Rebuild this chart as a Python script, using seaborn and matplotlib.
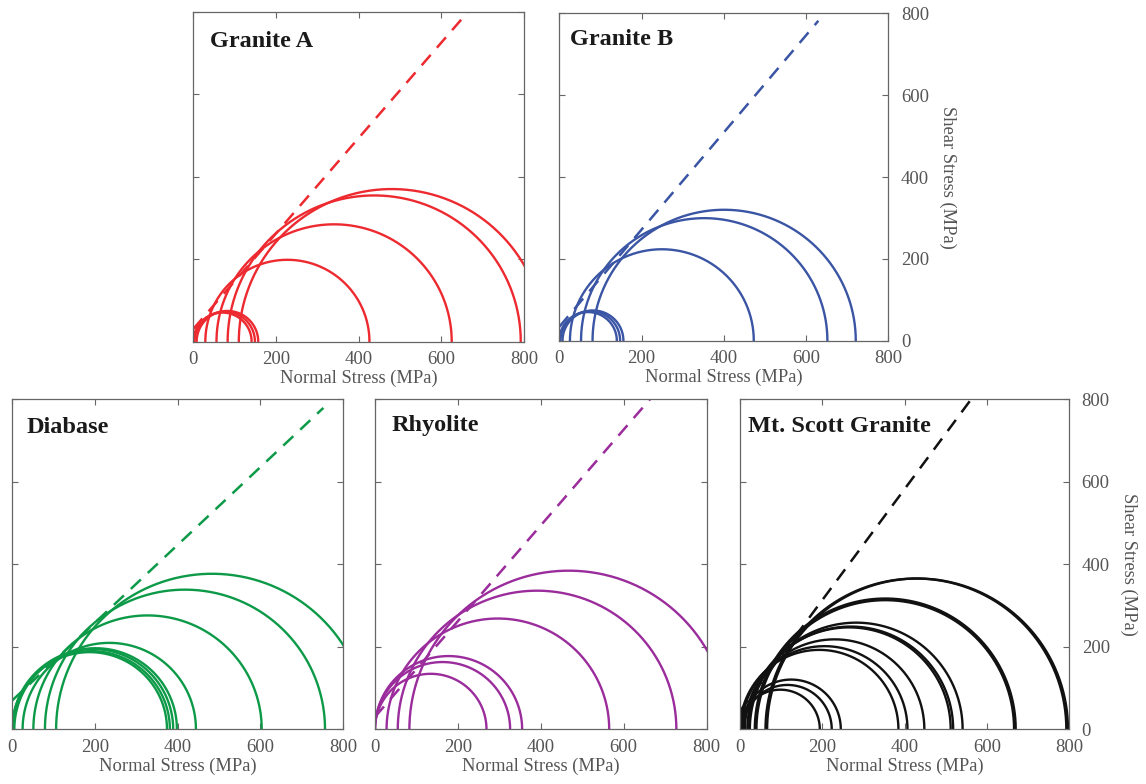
import numpy as np
import pandas as pd
import seaborn as sns
import matplotlib.pyplot as plt

# Mohr circles: sigma3 / sigma1 (MPa) for each rock, plus failure envelope
granite_a_s3 = [110, 83, 56, 29, 0, 3, 8]
granite_a_s1 = [850, 792, 625, 426, 141, 149, 157]
granite_a_env = [31, 1.157, 700]   # cohesion, slope, end of line

granite_b_s3 = [81, 53, 26, 0, 3, 8]
granite_b_s1 = [721, 652, 473, 140, 148, 156]
granite_b_env = [34, 1.187, 630]

diabase_s3 = [106, 79, 51, 25, 0, 2, 0, 5]
diabase_s1 = [860, 756, 603, 444, 374, 381, 389, 398]
diabase_env = [70, 0.943, 752]

rhyolite_s3 = [83, 55, 28, 0, 0, 0]
rhyolite_s1 = [852, 727, 565, 355, 326, 269]
rhyolite_env = [30, 1.161, 700]

mt_scott_s3 = [66, 62, 40, 36, 24, 20, 18, 12, 4, 0, 4, 8, 2]
mt_scott_s1 = [797, 793, 666, 670, 541, 518, 512, 448, 407, 385, 245, 223, 194]
mt_scott_env = [44, 1.346, 600]

ticks = [0, 200, 400, 600, 800]

sns.set_style('white')
plt.rcParams['font.family'] = ['Liberation Serif', 'DejaVu Serif']

fig = plt.figure(figsize=(11.46, 7.84), dpi=100)

panels = [
    ('Granite A', granite_a_s3, granite_a_s1, granite_a_env, '#ED2A30',
     [0.1687, 0.5642, 0.2886, 0.4209], False, (0.051, 0.894)),
    ('Granite B', granite_b_s3, granite_b_s1, granite_b_env, '#3B55A5',
     [0.4880, 0.5654, 0.2871, 0.4176], True, (0.032, 0.903)),
    ('Diabase', diabase_s3, diabase_s1, diabase_env, '#0D9A48',
     [0.0107, 0.0698, 0.2888, 0.4209], False, (0.043, 0.897)),
    ('Rhyolite', rhyolite_s3, rhyolite_s1, rhyolite_env, '#9A2C9C',
     [0.3272, 0.0698, 0.2894, 0.4209], False, (0.050, 0.905)),
    ('Mt. Scott Granite', mt_scott_s3, mt_scott_s1, mt_scott_env, '#111111',
     [0.6457, 0.0698, 0.2873, 0.4209], True, (0.025, 0.900)),
]

theta = np.linspace(0, np.pi, 300)

for name, s3, s1, env, color, rect, right_labels, title_xy in panels:
    ax = fig.add_axes(rect)

    # build semicircles from centre/radius of each test
    rows = []
    for i, (a, b) in enumerate(zip(s3, s1)):
        c = (a + b) / 2
        r = (b - a) / 2
        rows.append(pd.DataFrame({'x': c + r * np.cos(theta),
                                  'y': r * np.sin(theta),
                                  'test': i}))
    circles = pd.concat(rows, ignore_index=True)
    sns.lineplot(data=circles, x='x', y='y', units='test', estimator=None,
                 sort=False, color=color, lw=1.7, ax=ax)

    coh, slope, xend = env
    env_df = pd.DataFrame({'x': [0, xend], 'y': [coh, coh + slope * xend]})
    sns.lineplot(data=env_df, x='x', y='y', color=color, lw=1.8,
                 dashes=False, ax=ax)
    ax.lines[-1].set_dashes((5.5, 3.8))

    ax.set_xlim(0, 800)
    ax.set_ylim(0, 800)
    ax.set_xticks(ticks)
    ax.set_yticks(ticks)
    ax.tick_params(direction='in', top=True, right=True, bottom=True, left=True,
                   length=4, width=0.8, color='#666666', labelcolor='#555555',
                   labelsize=13.5, labelleft=False, labelright=right_labels)
    ax.tick_params(axis='x', pad=7)
    ax.tick_params(axis='y', pad=9)
    for sp in ax.spines.values():
        sp.set_color('#666666')
        sp.set_linewidth(0.9)

    ax.set_xlabel('Normal Stress (MPa)', fontsize=13.3, color='#555555', labelpad=1)
    if right_labels:
        ax.yaxis.set_label_position('right')
        ax.set_ylabel('Shear Stress (MPa)', fontsize=13.3, color='#555555',
                      rotation=270, labelpad=20)
    else:
        ax.set_ylabel('')

    ax.text(title_xy[0], title_xy[1], name, transform=ax.transAxes,
            fontsize=17.5, fontweight='bold', color='#1a1a1a', va='baseline')

fig.savefig('out.png', dpi=100)
